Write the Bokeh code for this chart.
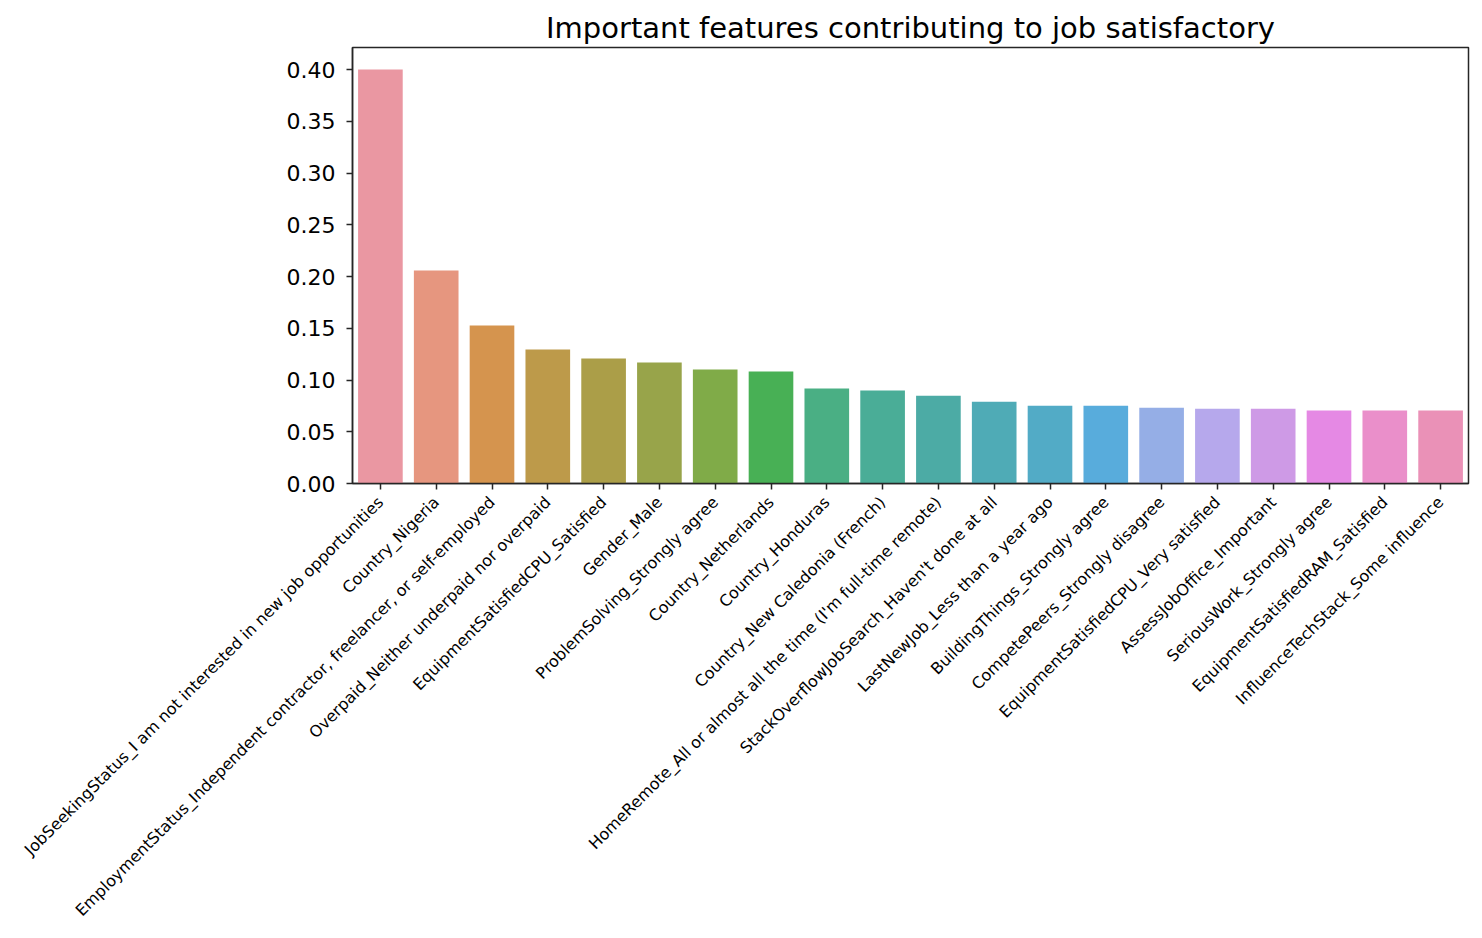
from bokeh.plotting import figure
from bokeh.models import Range1d, FactorRange, SingleIntervalTicker, NumeralTickFormatter, ColumnDataSource
from bokeh.embed import file_html
from bokeh.resources import INLINE
import math

features = [
    "JobSeekingStatus_I am not interested in new job opportunities",
    "Country_Nigeria",
    "EmploymentStatus_Independent contractor, freelancer, or self-employed",
    "Overpaid_Neither underpaid nor overpaid",
    "EquipmentSatisfiedCPU_Satisfied",
    "Gender_Male",
    "ProblemSolving_Strongly agree",
    "Country_Netherlands",
    "Country_Honduras",
    "Country_New Caledonia (French)",
    "HomeRemote_All or almost all the time (I'm full-time remote)",
    "StackOverflowJobSearch_Haven't done at all",
    "LastNewJob_Less than a year ago",
    "BuildingThings_Strongly agree",
    "CompetePeers_Strongly disagree",
    "EquipmentSatisfiedCPU_Very satisfied",
    "AssessJobOffice_Important",
    "SeriousWork_Strongly agree",
    "EquipmentSatisfiedRAM_Satisfied",
    "InfluenceTechStack_Some influence",
]
importance = [0.400, 0.2058, 0.1527, 0.1295, 0.1208, 0.1169, 0.1101, 0.1082, 0.0918, 0.0899,
              0.0847, 0.0789, 0.0751, 0.0751, 0.0733, 0.0723, 0.0723, 0.0705, 0.0705, 0.0705]
colors = ["#ea97a2", "#e6967f", "#d5944e", "#bd9a4a", "#ab9e48", "#98a44a", "#80ab48", "#48b055",
          "#4aaf84", "#4aad97", "#4caba5", "#4fabb6", "#52abc6", "#58acdc", "#95aee6", "#b6a8ec",
          "#ce9ae6", "#e589e4", "#ea8fca", "#ea91b7"]

src = ColumnDataSource(dict(x=features, top=importance, color=colors))

p = figure(
    width=1474, height=930,
    x_range=FactorRange(*features),
    y_range=Range1d(0, 0.4213),
    output_backend="svg", toolbar_location=None,
    min_border_left=352, min_border_right=6, min_border_top=47, min_border_bottom=447,
    title="Important features contributing to job satisfactory",
)
p.vbar(x="x", top="top", width=0.8, fill_color="color", line_color=None, source=src)

p.title.text_font = "DejaVu Sans"
p.title.text_font_size = "29px"
p.title.text_font_style = "normal"
p.title.align = "center"
p.title.text_color = "#000000"
p.title.standoff = 6

p.xgrid.visible = False
p.ygrid.visible = False
p.outline_line_color = "#262626"
p.outline_line_width = 1.5
p.outline_line_alpha = 1.0

for ax in (p.xaxis[0], p.yaxis[0]):
    ax.axis_line_color = "#262626"
    ax.axis_line_width = 1.5
    ax.major_tick_line_color = "#262626"
    ax.major_tick_line_width = 1.5
    ax.major_tick_out = 6
    ax.major_tick_in = 0
    ax.minor_tick_line_color = None
    ax.major_label_text_font = "DejaVu Sans"
    ax.major_label_text_color = "#000000"

p.yaxis[0].ticker = SingleIntervalTicker(interval=0.05, num_minor_ticks=0)
p.yaxis[0].formatter = NumeralTickFormatter(format="0.00")
p.yaxis[0].major_label_text_font_size = "22px"
p.yaxis[0].major_label_standoff = 11

p.xaxis[0].major_label_orientation = math.pi / 4
p.xaxis[0].major_label_text_font_size = "16px"
p.xaxis[0].major_label_standoff = 10
p.xaxis[0].group_text_font_size = "0px"

open("out.html", "w").write(file_html(p, INLINE))
